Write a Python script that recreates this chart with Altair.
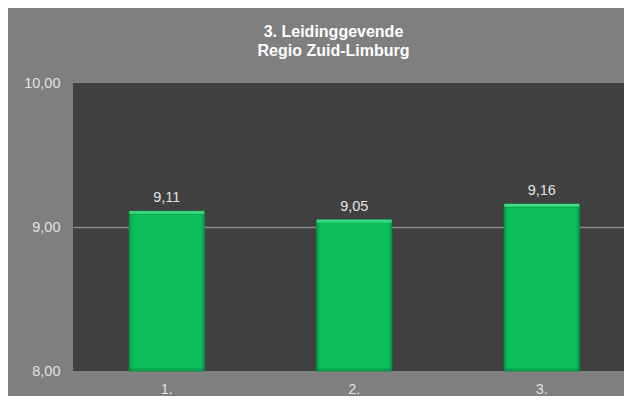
import altair as alt
import pandas as pd

categories = ["1.", "2.", "3."]
values = [9.11, 9.05, 9.16]
title_lines = ["3. Leidinggevende", "Regio Zuid-Limburg"]
y_ticks = [8, 9, 10]

df = pd.DataFrame({"cat": categories, "value": values})

FONT = "Liberation Sans, Arial, Helvetica, sans-serif"
LABEL_COLOR = "#e2e2e2"

x_scale = alt.Scale(range=[0, 562.5], paddingInner=0.6, paddingOuter=0.3)
y_scale = alt.Scale(domain=[8, 10], nice=False, zero=False)

x_enc = alt.X(
    "cat:N",
    sort=categories,
    scale=x_scale,
    axis=alt.Axis(
        title=None, labelAngle=0, ticks=False, domain=False,
        labelPadding=11, labelFontSize=14.5, labelColor=LABEL_COLOR,
        labelFont=FONT,
    ),
)

bars = alt.Chart(df).mark_bar(
    color=alt.Gradient(
        gradient="linear",
        x1=0, x2=1, y1=0, y2=0,
        stops=[
            alt.GradientStop(offset=0, color="#07a04a"),
            alt.GradientStop(offset=0.05, color="#0cbf5a"),
            alt.GradientStop(offset=0.95, color="#0cbf5a"),
            alt.GradientStop(offset=1, color="#07a04a"),
        ],
    ),
    stroke="#089447",
    strokeWidth=1,
).encode(
    x=x_enc,
    y=alt.Y(
        "value:Q",
        scale=y_scale,
        axis=alt.Axis(
            title=None, values=y_ticks, ticks=False, domain=False,
            labelExpr="replace(format(datum.value, '.2f'), '.', ',')",
            labelPadding=13, labelFontSize=14.5, labelColor=LABEL_COLOR,
            labelFont=FONT,
            grid=True,
            gridColor={"condition": {"test": "datum.value == 9", "value": "#8c8c8c"},
                       "value": "transparent"},
            gridWidth=1.5,
        ),
    ),
    y2=alt.datum(8),
)

bevel = alt.Chart(df).mark_bar(
    color=alt.Gradient(
        gradient="linear",
        x1=0, x2=0, y1=0, y2=1,
        stops=[
            alt.GradientStop(offset=0, color="rgba(90,235,150,0.85)"),
            alt.GradientStop(offset=0.018, color="rgba(60,220,130,0.6)"),
            alt.GradientStop(offset=0.022, color="rgba(0,0,0,0)"),
            alt.GradientStop(offset=0.98, color="rgba(0,0,0,0)"),
            alt.GradientStop(offset=0.985, color="rgba(0,110,50,0.25)"),
            alt.GradientStop(offset=1, color="rgba(0,110,50,0.25)"),
        ],
    ),
).encode(
    x=alt.X("cat:N", sort=categories, scale=x_scale),
    y=alt.Y("value:Q", scale=y_scale),
    y2=alt.datum(8),
)

labels = alt.Chart(df).transform_calculate(
    label="replace(format(datum.value, '.2f'), '.', ',')"
).mark_text(
    baseline="alphabetic", dy=-9, fontSize=14.5, color=LABEL_COLOR, font=FONT,
).encode(
    x=alt.X("cat:N", sort=categories, scale=x_scale),
    y=alt.Y("value:Q", scale=y_scale),
    text="label:N",
)

chart = alt.layer(bars, bevel, labels).properties(
    width=551,
    height=288,
    title=alt.TitleParams(
        text=title_lines,
        fontSize=16,
        fontWeight="bold",
        font=FONT,
        color="#ffffff",
        lineHeight=19,
        anchor="middle",
        dx=-15,
        offset=16,
    ),
    autosize=alt.AutoSizeParams(type="none"),
    padding={"left": 65, "top": 75, "right": 0, "bottom": 25},
    background="#7f7f7f",
).configure_view(
    fill="#404040",
    stroke=None,
)

chart.save("out.html", embed_options={"renderer": "svg", "actions": False})
